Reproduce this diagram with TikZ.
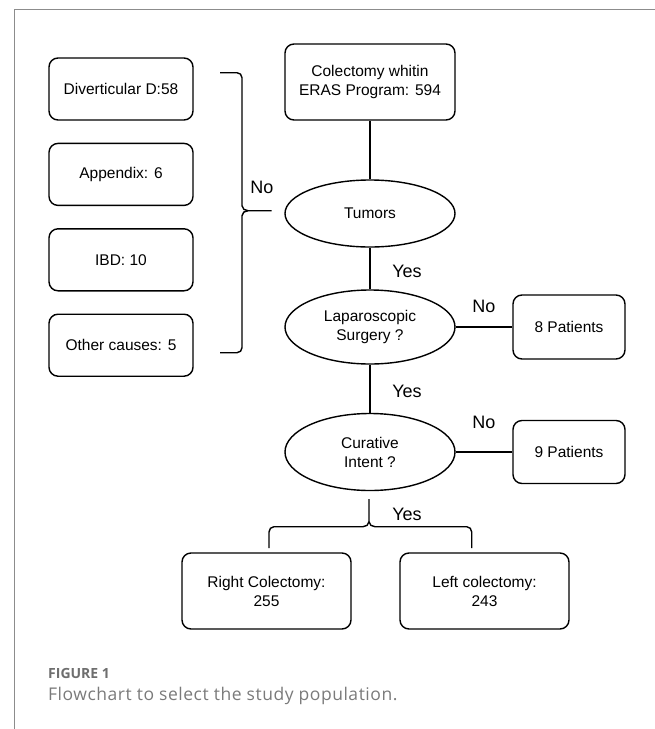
\documentclass[tikz,border=0pt]{standalone}
\usepackage{fontspec}
\setmainfont{Liberation Sans}
\newfontfamily\capfont{Open Sans}
\newfontfamily\capbody[LetterSpace=3]{Open Sans}
\usetikzlibrary{shapes,arrows,positioning,calc}
\usepackage{xcolor}
\definecolor{framegray}{HTML}{8C8C8C}
\definecolor{capgray}{HTML}{6E6E6E}
\definecolor{capbodygray}{HTML}{7A7A7A}

\begin{document}
\begin{tikzpicture}[x=1pt, y=1pt, node distance=22pt, line width=1.4pt]
  \tikzstyle{block} = [rectangle, draw, rounded corners=9pt, align=center, minimum width=144pt, minimum height=62pt, inner sep=2pt, font=\fontsize{15.5}{19}\selectfont]
  \tikzstyle{decision} = [ellipse, draw, align=center, minimum width=170pt, inner sep=0pt, font=\fontsize{15.5}{19}\selectfont]
  \tikzstyle{conn} = [draw, line width=1.4pt]
  \tikzstyle{lbl} = [inner sep=0pt, font=\fontsize{18}{20}\selectfont]

  \useasboundingbox (0,0) rectangle (655,-729);
  \draw[framegray, line width=1pt] (14.5,-729) -- (14.5,-9.5) -- (655,-9.5);

  % excluded causes
  \node[block] (divert) at (121,-89) {Diverticular D:58};
  \node[block, below=of divert] (append) {Appendix: 6};
  \node[block, below=of append] (ibd) {IBD: 10};
  \node[block, below=of ibd] (other) {Other causes: 5};

  % main column
  \node[block, minimum width=170pt, minimum height=76pt] (colec) at (370,-82) {Colectomy whitin\\ERAS Program: 594};
  \node[decision, minimum height=67pt] (tumor) at (370,-213.5) {Tumors};
  \node[decision, minimum height=74pt] (lap) at (370,-327) {Laparoscopic\\Surgery ?};
  \node[decision, minimum height=77pt] (curat) at (370,-452) {Curative\\Intent ?};

  \node[block, minimum width=112pt, minimum height=64pt] (pat8) at (569,-327) {8 Patients};
  \node[block, minimum width=112pt, minimum height=63pt] (pat9) at (569,-452) {9 Patients};

  \node[block, minimum width=169pt, minimum height=76pt] (rightcol) at (266.5,-591) {Right Colectomy:\\255};
  \node[block, minimum width=169pt, minimum height=76pt] (leftcol) at (484.5,-591) {Left colectomy:\\243};

  \path[conn] (colec) -- (tumor);
  \path[conn] (tumor) -- (lap);
  \path[conn] (lap) -- (curat);
  \path[conn] (lap) -- (pat8);
  \path[conn] (curat) -- (pat9);

  % braces
  \coordinate (notip) at (242,-210.7);
  \draw (220,-72.7) -- (237,-72.7) to[out=0,in=90] ($(notip)+(0,133)$) -- ($(notip)+(0,5)$) to[out=-90,in=180] ($(notip)+(6,0)$) -- ($(notip)+(29.7,0)$);
  \draw (220,-352.7) -- (237,-352.7) to[out=0,in=-90] ($(notip)+(0,-137)$) -- ($(notip)+(0,-5)$) to[out=90,in=180] ($(notip)+(6,0)$);

  \coordinate (yestip) at (369,-526.7);
  \draw (369,-499) -- ($(yestip)+(0,5)$) to[out=-90,in=0] ($(yestip)+(-6,0)$) -- (274,-526.7) to[out=180,in=90] (269,-532) -- (269,-548);
  \draw ($(yestip)+(0,5)$) to[out=-90,in=180] ($(yestip)+(6,0)$) -- (466.7,-526.7) to[out=0,in=90] (471.7,-532) -- (471.7,-548);

  % labels
  \node[lbl] (no1) at (262,-187) {No};
  \node[lbl] (yes1) at (407,-271) {Yes};
  \node[lbl] (no2) at (484,-306) {No};
  \node[lbl] (yes2) at (407,-391) {Yes};
  \node[lbl] (no3) at (484,-422) {No};
  \node[lbl] (yes3) at (407,-514) {Yes};

  % caption
  \node[anchor=west, inner sep=0pt, text=capgray, font=\capfont\bfseries\fontsize{14}{16}\selectfont] (fig) at (47.5,-673) {FIGURE 1};
  \node[anchor=west, inner sep=0pt, text=capbodygray, font=\capbody\fontsize{17.5}{20}\selectfont] (capt) at (47.5,-696) {Flowchart to select the study population.};
\end{tikzpicture}
\end{document}
